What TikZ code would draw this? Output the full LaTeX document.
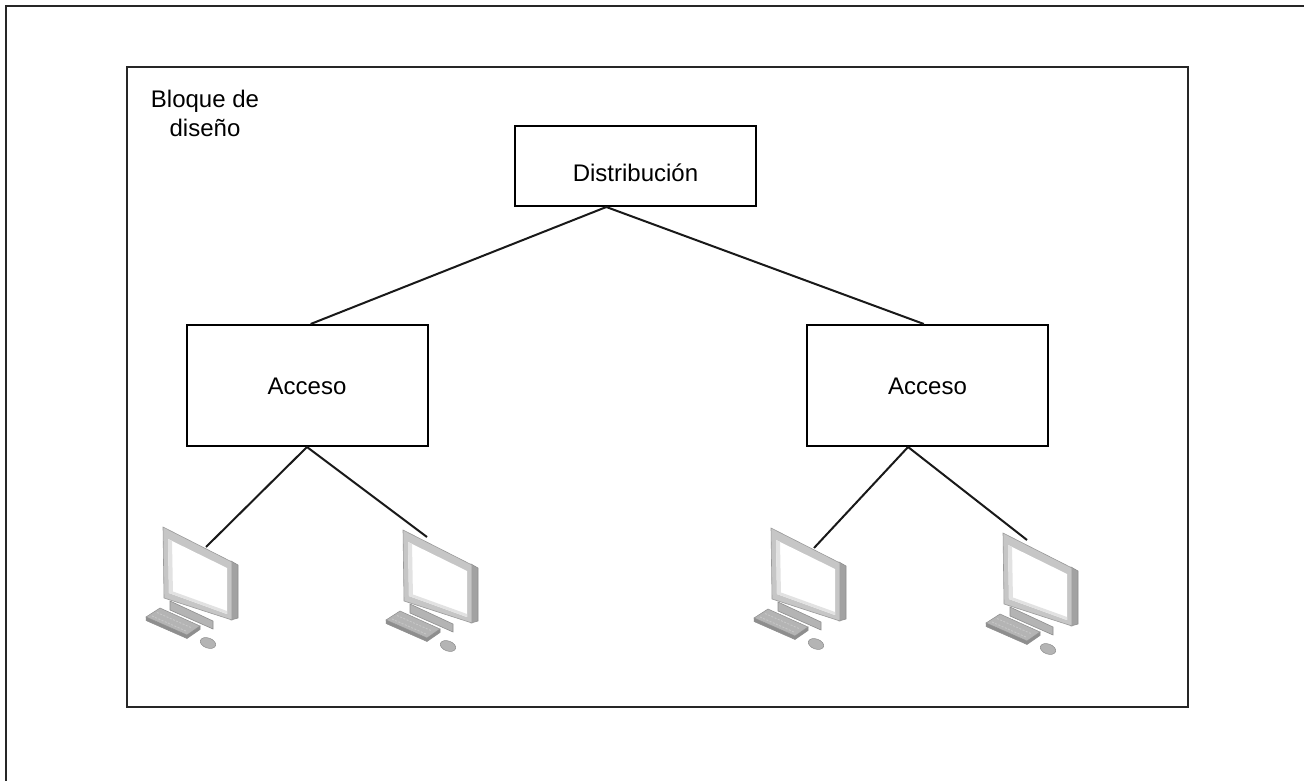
\documentclass[tikz,border=0pt]{standalone}
\usepackage{fontspec}
\setmainfont{Liberation Sans}
\usetikzlibrary{calc}
\definecolor{pcdark}{HTML}{8E8E8E}
\definecolor{pcmid}{HTML}{B4B4B4}
\definecolor{pclight}{HTML}{C6C6C6}
\definecolor{pcedge}{HTML}{9A9A9A}
\definecolor{pcside}{HTML}{A2A2A2}
\definecolor{pcshade}{HTML}{E2E2E2}
\tikzset{
  pc/.pic={
    % stand
    \filldraw[fill=pcmid,draw=pcdark,line width=0.6pt] (7,74) -- (50,94) -- (50,102) -- (7,83) -- cycle;
    % side of monitor
    \filldraw[fill=pcside,draw=pcdark,line width=0.6pt] (68,34) -- (75,38) -- (75,91) -- (68,93) -- cycle;
    % front bezel
    \filldraw[fill=pclight,draw=pcedge,line width=0.6pt] (0,0) -- (69,35) -- (69,93) -- (1,71) -- cycle;
    % screen
    \fill[white] (5,12) -- (64,41) -- (64,87) -- (6,66) -- cycle;
    \fill[pcshade] (5,12) -- (9,14) -- (10,67.5) -- (6,66) -- cycle;
    \fill[pcshade] (6,66) -- (64,87) -- (64,84) -- (10,64.5) -- cycle;
    % keyboard
    \filldraw[fill=pcdark,draw=pcdark,line width=0.5pt] (-17,90) -- (24,108) -- (37,99) -- (37,102.5) -- (24,111.5) -- (-17,93.5) -- cycle;
    \filldraw[fill=pcmid,draw=pcdark,line width=0.5pt] (-17,90) -- (-3,81) -- (37,99) -- (24,108) -- cycle;
    \draw[pclight,line width=0.9pt,dash pattern=on 2pt off 1.5pt] (-11,89) -- (24,104.5);
    \draw[pclight,line width=0.9pt,dash pattern=on 2pt off 1.5pt] (-6,85.5) -- (29,101);
    % mouse
    \filldraw[fill=pcmid,draw=pcdark,line width=0.5pt] (45,116) ellipse [x radius=8pt,y radius=5pt,rotate=-20];
    \coordinate (-l) at (43,20);
    \coordinate (-r) at (24,7);
  }
}
\begin{document}
\begin{tikzpicture}[x=1pt,y=-1pt,
  frame/.style={draw=black!85,line width=2pt},
  box/.style={draw=black,line width=2pt,fill=white,minimum width=241pt,inner sep=0pt,
    font=\fontsize{24}{29}\selectfont,text height=17.2pt,text depth=0pt},
  link/.style={draw=black!90,line width=2pt},
  titletext/.style={font=\fontsize{24}{29}\selectfont,align=center,inner sep=0pt}]
\useasboundingbox (0,0) rectangle (1304,781);
\clip (0,0) rectangle (1304,781);
\fill[white] (0,0) rectangle (1304,781);
\draw[frame] (6,6) rectangle (1330,800);
\draw[frame] (127,67) rectangle (1188,707);
\node[titletext] (title) at (205,113) {Bloque de\\diseño};

\node[box,minimum height=80pt,text height=32pt] (dist) at (635.5,166) {Distribución};
\node[box,minimum height=121pt] (acc1) at (307,385.5) {Acceso};
\node[box,minimum height=121pt] (acc2) at (927.5,385.5) {Acceso};

\pic (c1) at (163,527) {pc};
\pic (c2) at (403,530) {pc};
\pic (c3) at (771,528) {pc};
\pic (c4) at (1003,533) {pc};

\coordinate (dbot) at ($(dist.south west)!0.38!(dist.south east)$);
\draw[link] (dbot) -- ($(acc1.north west)!0.515!(acc1.north east)$);
\draw[link] (dbot) -- ($(acc2.north west)!0.485!(acc2.north east)$);

\coordinate (a1bot) at ($(acc1.south west)!0.5!(acc1.south east)$);
\coordinate (a2bot) at ($(acc2.south west)!0.42!(acc2.south east)$);
\draw[link] (a1bot) -- (c1-l);
\draw[link] (a1bot) -- (c2-r);
\draw[link] (a2bot) -- (c3-l);
\draw[link] (a2bot) -- (c4-r);
\end{tikzpicture}
\end{document}
